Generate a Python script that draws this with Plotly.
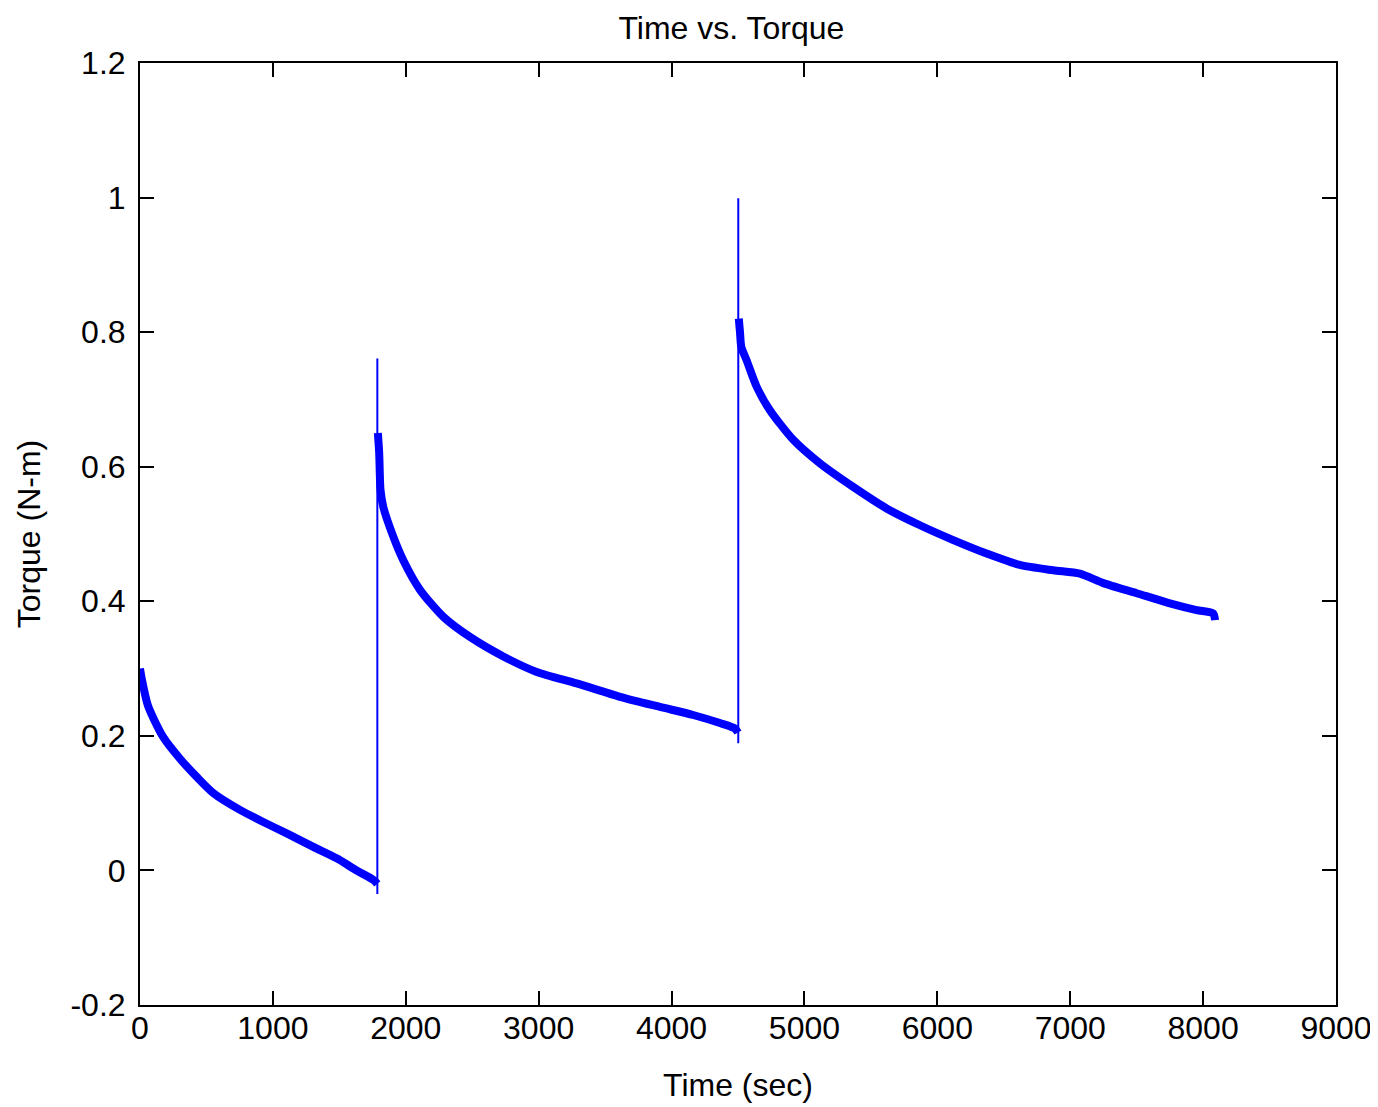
import plotly.graph_objects as go

# values (time in s, torque in N-m)
t_run1 = [0, 13, 60, 175, 301, 427, 552, 752, 928, 1104, 1304, 1480, 1630, 1756, 1786]
torque_run1 = [0.30, 0.285, 0.245, 0.198, 0.166, 0.139, 0.115, 0.090, 0.072, 0.055,
               0.035, 0.018, 0.0, -0.014, -0.02]

t_run2 = [1790, 1800, 1810, 1831, 1906, 1981, 2107, 2282, 2483, 2734, 2985, 3286,
          3612, 3913, 4163, 4364, 4477, 4500]
torque_run2 = [0.65, 0.62, 0.565, 0.540, 0.496, 0.461, 0.417, 0.377, 0.347, 0.318,
               0.295, 0.278, 0.258, 0.243, 0.231, 0.219, 0.211, 0.205]

t_run3 = [4506, 4515, 4525, 4565, 4640, 4740, 4916, 5117, 5367, 5618, 5869, 6120,
          6371, 6621, 6872, 7073, 7249, 7500, 7750, 7951, 8076, 8090]
torque_run3 = [0.82, 0.80, 0.778, 0.758, 0.719, 0.684, 0.640, 0.605, 0.570, 0.538,
               0.513, 0.491, 0.471, 0.454, 0.446, 0.441, 0.427, 0.412, 0.397, 0.387,
               0.382, 0.372]

# load steps: thin vertical jumps
step_time = [1786, 4502]
step_low = [-0.035, 0.189]
step_high = [0.761, 0.999]

x_ticks = [0, 1000, 2000, 3000, 4000, 5000, 6000, 7000, 8000, 9000]
y_ticks = [-0.2, 0, 0.2, 0.4, 0.6, 0.8, 1, 1.2]
y_tick_text = ["-0.2", "0", "0.2", "0.4", "0.6", "0.8", "1", "1.2"]

BLUE = "#0000ff"
FONT = "Liberation Sans, Arial, sans-serif"

fig = go.Figure()

for t, q in [(t_run1, torque_run1), (t_run2, torque_run2), (t_run3, torque_run3)]:
    fig.add_trace(go.Scatter(x=t, y=q, mode="lines",
                             line=dict(color=BLUE, width=8, shape="spline", smoothing=0.7),
                             hoverinfo="x+y"))

sx, sy = [], []
for t, lo, hi in zip(step_time, step_low, step_high):
    sx += [t, t, None]
    sy += [lo, hi, None]
fig.add_trace(go.Scatter(x=sx, y=sy, mode="lines", line=dict(color=BLUE, width=2)))

axis_style = dict(
    showline=True, linecolor="black", linewidth=2, mirror="ticks",
    ticks="inside", ticklen=14, tickwidth=2, tickcolor="black",
    showgrid=False, zeroline=False, automargin=False,
    tickfont=dict(family=FONT, size=32, color="black"),
)

fig.update_xaxes(range=[0, 9000], tickvals=x_ticks, ticklabelstandoff=-6,
                 title=dict(text="Time (sec)", font=dict(family=FONT, size=32, color="black"),
                            standoff=28),
                 **axis_style)
fig.update_yaxes(range=[-0.2, 1.2], tickvals=y_ticks, ticktext=y_tick_text,
                 ticklabelstandoff=6,
                 title=dict(text="Torque (N-m)", font=dict(family=FONT, size=32, color="black"),
                            standoff=20),
                 **axis_style)

# the page body adds an 8px offset, so the figure is a bit smaller than the window
fig.update_layout(
    width=1370, height=1099, autosize=False,
    showlegend=False,
    plot_bgcolor="white", paper_bgcolor="white",
    margin=dict(l=132, r=42, t=55, b=102),
    title=dict(text="Time vs. Torque", x=0.528, xanchor="center", y=0.982, yanchor="middle",
               font=dict(family=FONT, size=32, color="black")),
)

fig.write_html("out.html")
